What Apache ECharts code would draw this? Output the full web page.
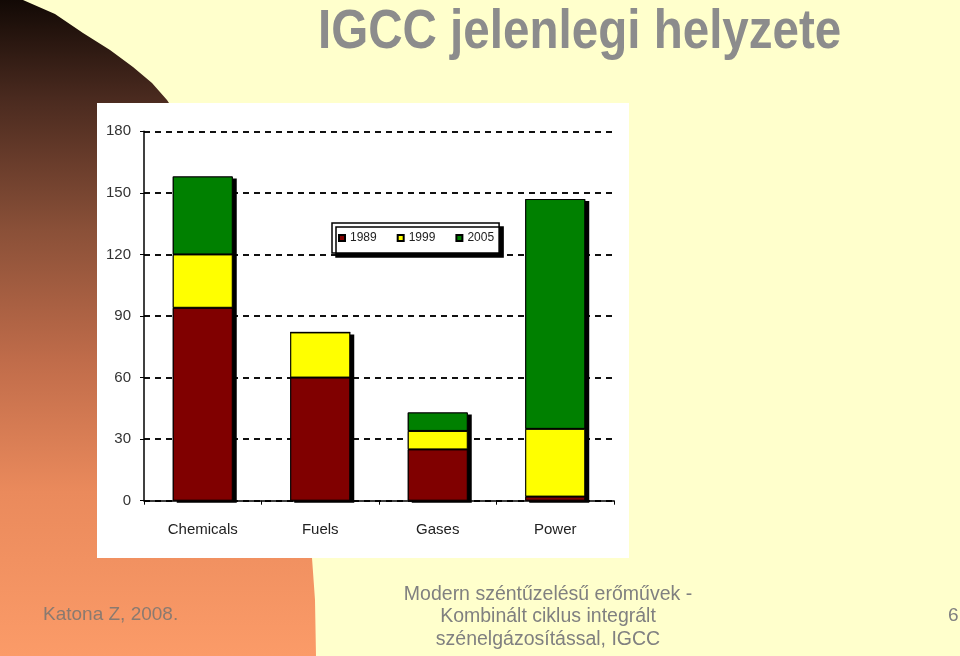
<!DOCTYPE html>
<html>
<head>
<meta charset="utf-8">
<script src="https://cdn.jsdelivr.net/npm/echarts@6/dist/echarts.min.js"></script>
<style>
html,body{margin:0;padding:0;background:#FFFFCC;}
#c{width:960px;height:656px;}
</style>
</head>
<body>
<div id="c"></div>
<script>
const categories = ['Chemicals', 'Fuels', 'Gases', 'Power'];
const years = ['1989', '1999', '2005'];
const v1989 = [94, 60, 25, 2];
const v1999 = [26, 22, 9, 33];
const v2005 = [38, 0, 9, 112];
const yTicks = [0, 30, 60, 90, 120, 150, 180];

const totals = categories.map((_, i) => v1989[i] + v1999[i] + v2005[i]);
const colors = ['#800000', '#FFFF00', '#008000'];

const chart = echarts.init(document.getElementById('c'), null, {renderer: 'canvas'});

const segStyle = (c) => ({color: c, borderColor: '#000', borderWidth: 1});

const option = {
  backgroundColor: 'transparent',
  animation: false,
  graphic: [
    {
      type: 'polygon', z: -10, silent: true,
      shape: {
        points: [[0,0],[23,0],[55,14],[83,33],[110,50],[133,67],[152,83],[167,100],[200,150],[260,300],[300,450],[312,558],[315,600],[316,656],[0,656]]
      },
      style: {
        fill: new echarts.graphic.LinearGradient(0, 0, 0, 1, [
          {offset: 0, color: '#120905'},
          {offset: 0.15, color: '#4a2a1f'},
          {offset: 0.35, color: '#8a5038'},
          {offset: 0.55, color: '#c06c4a'},
          {offset: 0.75, color: '#ea8a5c'},
          {offset: 1, color: '#fb9b68'}
        ])
      }
    },
    {
      type: 'rect', z: -5, silent: true,
      shape: {x: 97, y: 103, width: 532, height: 455},
      style: {fill: '#ffffff'}
    },
    {
      type: 'text', z: 10, x: 318, y: 5, scaleX: 0.82, scaleY: 0.95, originX: 0, originY: 0,
      style: {
        text: 'IGCC jelenlegi helyzete',
        font: 'bold 58px "Liberation Sans", Arial, sans-serif',
        fill: '#8c8c8c',
        align: 'left',
        shadowColor: '#333333', shadowOffsetX: 3, shadowOffsetY: 3, shadowBlur: 0
      }
    },
    {
      type: 'text', z: 10, x: 43, y: 605,
      style: {
        text: 'Katona Z, 2008.',
        font: '19px "Liberation Sans", Arial, sans-serif',
        fill: '#8a7a70'
      }
    },
    {
      type: 'text', z: 10, x: 548, y: 583,
      style: {
        text: 'Modern széntűzelésű erőművek -\nKombinált ciklus integrált\nszénelgázosítással, IGCC',
        font: '19.5px "Liberation Sans", Arial, sans-serif',
        fill: '#808080',
        align: 'center',
        lineHeight: 22.5
      }
    },
    {
      type: 'text', z: 10, x: 948, y: 606,
      style: {
        text: '6',
        font: '19px "Liberation Sans", Arial, sans-serif',
        fill: '#808080'
      }
    }
  ],
  legend: {
    data: years,
    left: 332, top: 223,
    orient: 'horizontal',
    padding: [9, 5, 9, 6],
    itemGap: 20,
    itemWidth: 6, itemHeight: 6,
    icon: 'rect',
    backgroundColor: '#ffffff',
    borderColor: '#000', borderWidth: 1.5, borderRadius: 0,
    shadowColor: '#000', shadowOffsetX: 4, shadowOffsetY: 4, shadowBlur: 0.01,
    textStyle: {fontSize: 12, color: '#222', fontFamily: '"Liberation Sans", Arial, sans-serif'}
  },
  grid: {left: 144, right: 346, top: 131.3, bottom: 155.3, containLabel: false},
  xAxis: {
    type: 'category',
    data: categories,
    axisLine: {lineStyle: {color: '#000', width: 1.5}},
    axisTick: {show: true, length: 4, lineStyle: {color: '#000', width: 1}},
    axisLabel: {fontSize: 15, color: '#222', margin: 22, fontFamily: '"Liberation Sans", Arial, sans-serif'}
  },
  yAxis: {
    type: 'value',
    min: 0, max: 180, interval: 30,
    axisLine: {show: true, lineStyle: {color: '#000', width: 1.5}},
    axisTick: {show: true, length: 4, lineStyle: {color: '#000', width: 1}},
    axisLabel: {fontSize: 15, color: '#333', margin: 13, fontFamily: '"Liberation Sans", Arial, sans-serif'},
    splitLine: {show: true, lineStyle: {color: '#111', width: 1.8, type: [6, 5]}}
  },
  series: [
    {
      name: 'shadow', type: 'bar', data: totals, barWidth: 60, barGap: '-100%', z: 1,
      silent: true,
      itemStyle: {color: '#000', shadowColor: '#000', shadowOffsetX: 4, shadowOffsetY: 2, shadowBlur: 0.01}
    },
    {name: years[0], type: 'bar', stack: 's', data: v1989, barWidth: 60, barGap: '-100%', z: 3, itemStyle: segStyle(colors[0])},
    {name: years[1], type: 'bar', stack: 's', data: v1999, barWidth: 60, barGap: '-100%', z: 3, itemStyle: segStyle(colors[1])},
    {name: years[2], type: 'bar', stack: 's', data: v2005, barWidth: 60, barGap: '-100%', z: 3, itemStyle: segStyle(colors[2])}
  ]
};
chart.setOption(option);
</script>
</body>
</html>
